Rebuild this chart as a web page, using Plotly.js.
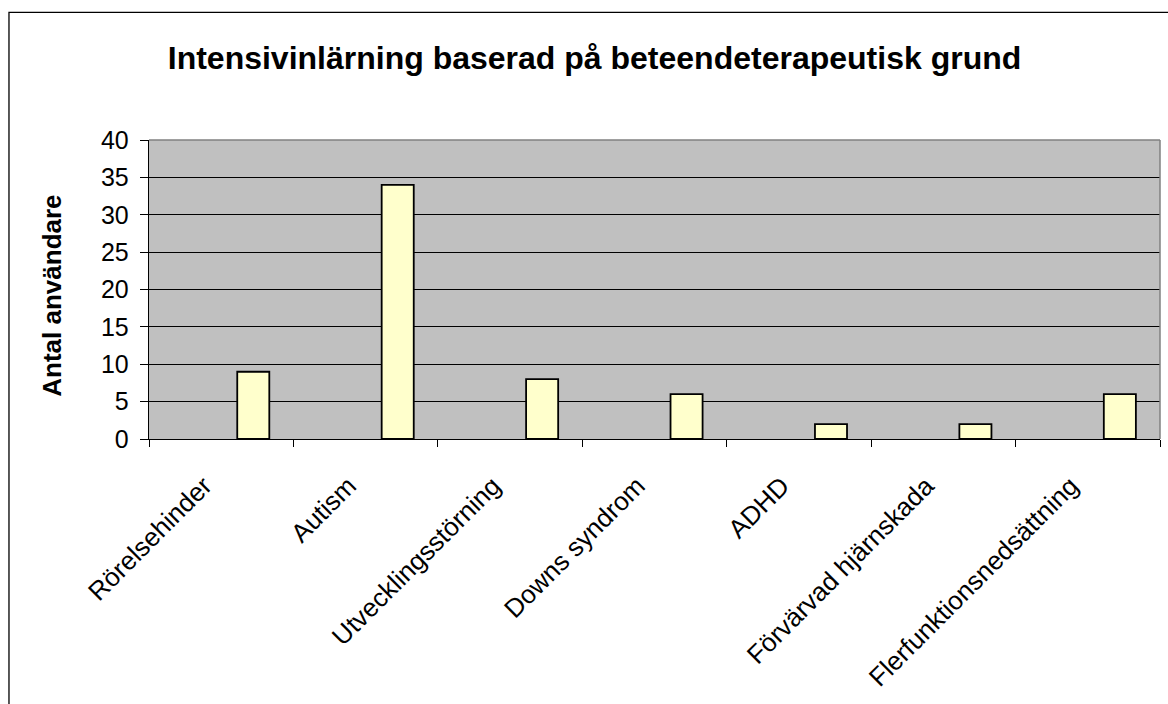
<!DOCTYPE html>
<html>
<head>
<meta charset="utf-8">
<script src="https://cdn.plot.ly/plotly-3.0.1.min.js"></script>
<style>html,body{margin:0;padding:0;background:#fff;}#chart{width:1168px;height:704px;}</style>
</head>
<body>
<div id="chart"></div>
<script>
const categories = ["Rörelsehinder", "Autism", "Utvecklingsstörning", "Downs syndrom", "ADHD", "Förvärvad hjärnskada", "Flerfunktionsnedsättning"];
const values = [9, 34, 8, 6, 2, 2, 6];
const yTicks = [0, 5, 10, 15, 20, 25, 30, 35, 40];
const titleText = "Intensivinlärning baserad på beteendeterapeutisk grund";
const yTitleText = "Antal användare";

const font = "Liberation Sans, Arial, sans-serif";

const trace = {
  type: "bar",
  x: categories,
  y: values,
  width: 0.222,
  offset: 0.111,
  marker: { color: "#FFFFCC", line: { color: "#000000", width: 1.8 } },
  hoverinfo: "x+y"
};

const layout = {
  width: 1168,
  height: 704,
  margin: { l: 149, r: 8, t: 140, b: 264.5, pad: 0 },
  paper_bgcolor: "#FFFFFF",
  plot_bgcolor: "#C0C0C0",
  showlegend: false,
  title: {
    text: "<b>" + titleText + "</b>",
    font: { family: font, size: 32, color: "#000" },
    xref: "container", x: 0.509, xanchor: "center",
    yref: "container", y: 0.918, yanchor: "middle"
  },
  xaxis: {
    type: "category",
    tickson: "boundaries",
    ticks: "outside",
    ticklen: 7,
    tickwidth: 1,
    tickcolor: "#000",
    showline: true,
    linecolor: "#000",
    linewidth: 1.3,
    showgrid: false,
    tickangle: -45,
    ticklabelstandoff: 20,
    ticklabelshift: -17,
    tickfont: { family: font, size: 26, color: "#000" },
    automargin: false,
    fixedrange: true
  },
  yaxis: {
    range: [0, 40],
    tickvals: yTicks,
    ticktext: yTicks.map(String),
    ticks: "outside",
    ticklen: 8,
    tickwidth: 1,
    tickcolor: "#000",
    showline: true,
    linecolor: "#000",
    linewidth: 1.3,
    showgrid: true,
    gridcolor: "#000",
    gridwidth: 1,
    zeroline: false,
    ticklabelstandoff: 6,
    tickfont: { family: font, size: 25, color: "#000" },
    automargin: false,
    fixedrange: true
  },
  annotations: [{
    text: "<b>" + yTitleText + "</b>",
    xref: "paper", yref: "paper",
    x: -0.096, y: 0.479,
    xanchor: "center", yanchor: "middle",
    textangle: -90,
    showarrow: false,
    font: { family: font, size: 26, color: "#000" }
  }],
  shapes: [
    { type: "line", xref: "paper", yref: "paper", x0: 0, x1: 1, y0: 1, y1: 1, line: { color: "#808080", width: 1.5 }, layer: "above" },
    { type: "line", xref: "paper", yref: "paper", x0: 1, x1: 1, y0: 0, y1: 1, line: { color: "#808080", width: 1.5 }, layer: "above" },
    { type: "rect", xref: "paper", yref: "paper", x0: -0.1385, x1: 1.2, y0: -1.2, y1: 1.427, line: { color: "#000", width: 1.3 }, fillcolor: "rgba(0,0,0,0)", layer: "below" }
  ]
};

Plotly.newPlot("chart", [trace], layout, { displayModeBar: false, staticPlot: true });
</script>
</body>
</html>
